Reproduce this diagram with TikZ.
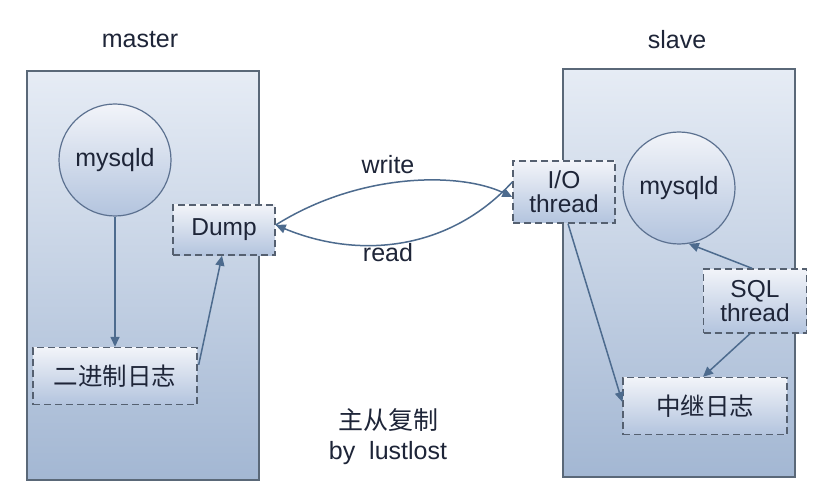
\documentclass[tikz,border=0pt]{standalone}
\usepackage{fontspec}
\setmainfont{Liberation Sans}
\newfontfamily\cjk{Noto Sans CJK SC}
\usetikzlibrary{arrows.meta}
\definecolor{boxtop}{HTML}{E6ECF5}
\definecolor{boxbot}{HTML}{A3B7D3}
\definecolor{frame}{HTML}{5A6878}
\definecolor{ctop}{HTML}{F2F4F9}
\definecolor{cbot}{HTML}{B3C4DE}
\definecolor{cline}{HTML}{5C7190}
\definecolor{dline}{HTML}{556070}
\definecolor{arr}{HTML}{4D6B8E}
\definecolor{txt}{HTML}{1E2538}
\begin{document}
\begin{tikzpicture}[x=1pt,y=-1pt,
  font=\fontsize{25}{27}\selectfont,
  every node/.style={text=txt},
  host/.style={draw=frame,line width=2pt,top color=boxtop,bottom color=boxbot},
  proc/.style={circle,draw=cline,line width=1.2pt,top color=ctop,bottom color=cbot,minimum size=112pt,inner sep=0pt},
  dbox/.style={draw=dline,line width=1.4pt,dash pattern=on 7pt off 4pt,top color=ctop,bottom color=cbot,inner sep=0pt,align=center,font=\fontsize{24.5}{24}\selectfont},
  link/.style={draw=arr,line width=1.5pt,-{Triangle[length=10pt,width=9pt]}},
  lbl/.style={inner sep=1pt}]
\useasboundingbox (0,0) rectangle (828,500);
\fill[white] (0,0) rectangle (828,500);
% hosts
\path[host] (27,71) rectangle (259,480);
\path[host] (563,69) rectangle (795,477);
\node[lbl] (mlab) at (140,40) {master};
\node[lbl] (slab) at (677,40) {slave};
% master
\node[proc] (m1) at (115,160) {mysqld};
\node[dbox,minimum width=102pt,minimum height=50pt] (dump) at (224,230) {Dump};
\node[dbox,minimum width=164pt,minimum height=57pt] (binlog) at (115,376) {\cjk 二进制日志};
% slave
\node[dbox,minimum width=102pt,minimum height=62pt] (io) at (564,192) {I/O\\thread};
\node[proc] (m2) at (679,188) {mysqld};
\node[dbox,minimum width=103pt,minimum height=64pt] (sql) at (755,301) {SQL\\thread};
\node[dbox,minimum width=164pt,minimum height=57pt] (relay) at (705,406) {\cjk 中继日志};
% arrows
\draw[link] (m1.south) -- (binlog.north);
\draw[link] ([xshift=1pt,yshift=-18pt]binlog.north east) -- ([xshift=-2pt]dump.south);
\draw[link] ([yshift=5pt]dump.east) .. controls (360,172) and (460,172) .. ([yshift=-5pt]io.west);
\draw[link] ([yshift=10pt]io.west) .. controls (450,250) and (360,260) .. ([yshift=5pt]dump.east);
\draw[link] ([xshift=4pt]io.south) -- ([yshift=4pt]relay.west);
\draw[link] ([xshift=-3pt]sql.north) -- (m2.-80);
\draw[link] ([xshift=-5pt]sql.south) -- ([xshift=-2pt]relay.north);
% labels
\node[lbl] (wlab) at (388,165) {write};
\node[lbl] (rlab) at (388,253) {read};
\node[lbl,align=center,font=\fontsize{25}{30}\selectfont] (cap) at (388,437) {{\cjk 主从复制}\\by\ \ lustlost};
\end{tikzpicture}
\end{document}
